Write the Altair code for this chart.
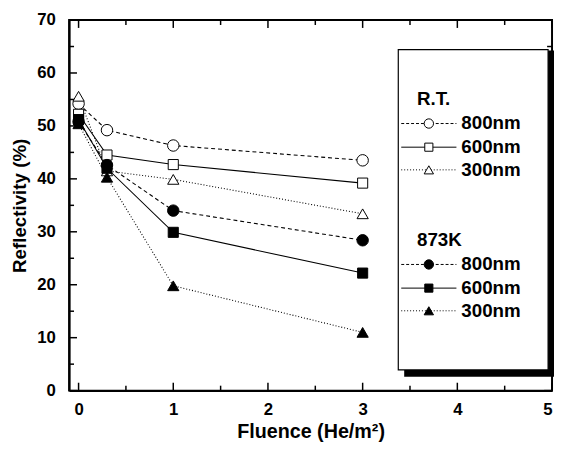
import altair as alt
import pandas as pd

# ---- data ----
fluence = [0.0, 0.3, 1.0, 3.0]
rt_800 = [54.2, 49.2, 46.3, 43.5]
rt_600 = [52.2, 44.5, 42.7, 39.2]
rt_300 = [55.6, 41.5, 39.9, 33.4]
k873_800 = [50.8, 42.6, 34.0, 28.4]
k873_600 = [51.2, 42.0, 29.9, 22.2]
k873_300 = [50.4, 40.3, 19.8, 11.0]

x_ticks_major = [0, 1, 2, 3, 4, 5]
x_ticks_minor = [0.5, 1.5, 2.5, 3.5, 4.5]
y_ticks_major = [0, 10, 20, 30, 40, 50, 60, 70]
y_ticks_minor = [5, 15, 25, 35, 45, 55, 65]

group_titles = ["R.T.", "873K"]
wave_labels = ["800nm", "600nm", "300nm"]

# ---- layout / style ----
W, H = 490, 376
FONT = "Liberation Sans"
xs = alt.Scale(domain=[-0.1, 5], nice=False, zero=False)
ys = alt.Scale(domain=[0, 70], nice=False, zero=False)

series = [
    ("R.T. 800nm", rt_800, "circle", False, [4, 3]),
    ("R.T. 600nm", rt_600, "square", False, None),
    ("R.T. 300nm", rt_300, "triangle-up", False, [1, 2]),
    ("873K 800nm", k873_800, "circle", True, [4, 3]),
    ("873K 600nm", k873_600, "square", True, None),
    ("873K 300nm", k873_300, "triangle-up", True, [1, 2]),
]
msize = {"circle": 135, "square": 105, "triangle-up": 130}
lsize = {"circle": 90, "square": 68, "triangle-up": 90}

layers = []

# lines
for name, vals, shape, filled, dash in series:
    df = pd.DataFrame({"x": fluence, "y": vals})
    kw = dict(color="black", strokeWidth=1.1)
    if dash:
        kw["strokeDash"] = dash
    layers.append(
        alt.Chart(df).mark_line(**kw).encode(
            x=alt.X("x:Q", scale=xs), y=alt.Y("y:Q", scale=ys)
        )
    )
# markers
for name, vals, shape, filled, dash in series:
    df = pd.DataFrame({"x": fluence, "y": vals})
    layers.append(
        alt.Chart(df).mark_point(
            shape=shape, size=msize[shape], filled=True,
            fill="black" if filled else "white",
            stroke="black", strokeWidth=1, opacity=1,
        ).encode(x=alt.X("x:Q", scale=xs), y=alt.Y("y:Q", scale=ys))
    )

# inward ticks
def xticks(vals, length):
    df = pd.DataFrame({"x": vals})
    bottom = alt.Chart(df).mark_rule(color="black", strokeWidth=1.5).encode(
        x=alt.X("x:Q", scale=xs), y=alt.value(H), y2=alt.value(H - length))
    top = alt.Chart(df).mark_rule(color="black", strokeWidth=1.5).encode(
        x=alt.X("x:Q", scale=xs), y=alt.value(0), y2=alt.value(length))
    return [bottom, top]

def yticks(vals, length):
    df = pd.DataFrame({"y": vals})
    left = alt.Chart(df).mark_rule(color="black", strokeWidth=1.5).encode(
        y=alt.Y("y:Q", scale=ys), x=alt.value(0), x2=alt.value(length))
    right = alt.Chart(df).mark_rule(color="black", strokeWidth=1.5).encode(
        y=alt.Y("y:Q", scale=ys), x=alt.value(W), x2=alt.value(W - length))
    return [left, right]

layers += xticks(x_ticks_major, 8) + xticks(x_ticks_minor, 5)
layers += yticks(y_ticks_major, 8) + yticks(y_ticks_minor, 5)

# ---- legend box ----
one = pd.DataFrame({"a": [0]})
BX0, BX1, BY0, BY1 = 334, 486, 30, 355
layers.append(alt.Chart(one).mark_rect(color="black").encode(
    x=alt.value(BX0 + 6), x2=alt.value(BX1 + 6),
    y=alt.value(BY0 + 1), y2=alt.value(BY1 + 7)))
layers.append(alt.Chart(one).mark_rect(fill="white", stroke="black", strokeWidth=1.2).encode(
    x=alt.value(BX0), x2=alt.value(BX1), y=alt.value(BY0), y2=alt.value(BY1)))

LX0, LX1, LM, LT = 337, 393, 365, 398
group_y = [80, 223]
row_dy = [25, 49, 72]
texts = []
for gi, (gt, gy) in enumerate(zip(group_titles, group_y)):
    texts.append({"t": gt, "px": 353, "py": gy})
    for ri, (lab, dy) in enumerate(zip(wave_labels, row_dy)):
        name, vals, shape, filled, dash = series[gi * 3 + ri]
        yy = gy + dy
        texts.append({"t": lab, "px": LT, "py": yy})
        kw = dict(color="black", strokeWidth=1)
        if dash:
            kw["strokeDash"] = [3, 2] if dash == [4, 3] else dash
        layers.append(alt.Chart(one).mark_rule(**kw).encode(
            x=alt.value(LX0), x2=alt.value(LX1), y=alt.value(yy)))
        layers.append(alt.Chart(one).mark_point(
            shape=shape, size=lsize[shape], filled=True,
            fill="black" if filled else "white",
            stroke="black", strokeWidth=1, opacity=1,
        ).encode(x=alt.value(LM), y=alt.value(yy)))

for t in texts:
    layers.append(alt.Chart(one).mark_text(
        text=t["t"], align="left", baseline="middle", font=FONT,
        fontWeight="bold", fontSize=19, color="black",
    ).encode(x=alt.value(t["px"]), y=alt.value(t["py"])))

# axes carrier layer
axis_df = pd.DataFrame({"x": [0], "y": [0]})
axes_layer = alt.Chart(axis_df).mark_point(opacity=0).encode(
    x=alt.X("x:Q", scale=xs, title="Fluence (He/m²)",
            axis=alt.Axis(values=x_ticks_major, format="d", ticks=False, tickSize=0,
                          labelPadding=11, titlePadding=5)),
    y=alt.Y("y:Q", scale=ys, title="Reflectivity (%)",
            axis=alt.Axis(values=y_ticks_major, format="d", ticks=False, tickSize=0,
                          labelPadding=14, titlePadding=7)),
)

chart = alt.layer(axes_layer, *layers).properties(
    width=W, height=H,
    autosize=alt.AutoSizeParams(type="none"),
    padding={"left": 62, "top": 9, "right": 2, "bottom": 55},
).configure_view(
    stroke="black", strokeWidth=2,
).configure_axis(
    grid=False, domainColor="black", domainWidth=2,
    labelFont=FONT, labelFontWeight="bold", labelFontSize=17, labelColor="black",
    titleFont=FONT, titleFontWeight="bold", titleFontSize=20, titleColor="black",
).configure_axisY(titleFontSize=19)

chart.save("out.html", embed_options={"renderer": "svg", "actions": False})
